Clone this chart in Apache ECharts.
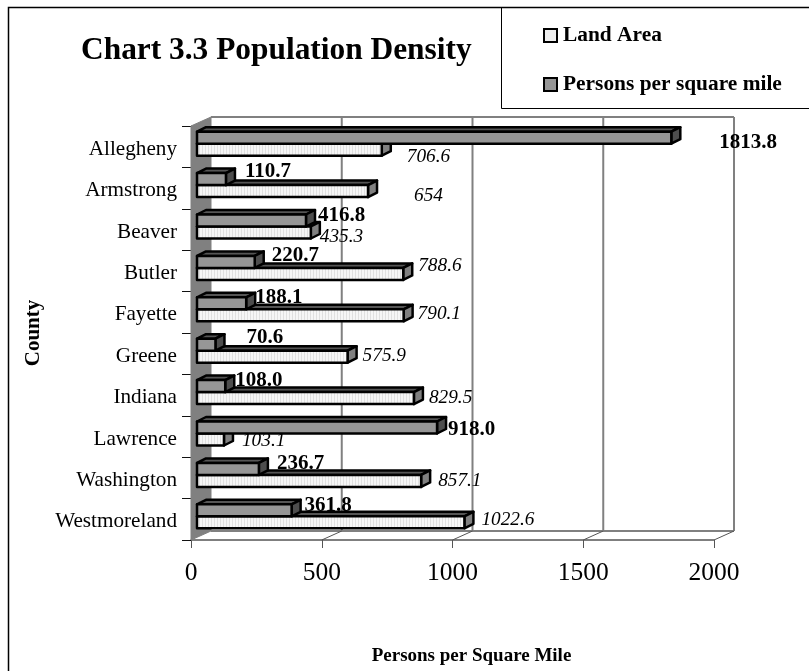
<!DOCTYPE html>
<html>

<head>
    <meta charset="UTF-8">
    <title>Chart 3.3 Population Density</title>
    <style type="text/css">
        * {
            margin: 0;
            padding: 0;
        }

        html,
        body {
            width: 100%;
            height: 100%;
            background: #fff;
            overflow: hidden;
        }

        #container {
            width: 809px;
            height: 671px;
        }
    </style>
</head>

<body>
    <div id="container"></div>
    <script src="https://cdn.jsdelivr.net/npm/echarts@6/dist/echarts.min.js"></script>
    <script>
        const counties = ['Allegheny', 'Armstrong', 'Beaver', 'Butler', 'Fayette', 'Greene', 'Indiana', 'Lawrence', 'Washington', 'Westmoreland'];
        const landArea = [706.6, 654, 435.3, 788.6, 790.1, 575.9, 829.5, 103.1, 857.1, 1022.6];
        const personsPerMile = [1813.8, 110.7, 416.8, 220.7, 188.1, 70.6, 108.0, 918.0, 236.7, 361.8];
        const xTicks = [0, 500, 1000, 1500, 2000];

        // hand placed labels in the original, offset from the end of the bar
        const landLabelNudge = [[16, 10], [37, 8], [0, 7.5], [6, -5], [5, 2], [6, 2], [6, 3], [9, 4.5], [8, 3], [8, 1]];
        const personsLabelNudge = [[39, -4], [10, -17], [3, -13.5], [8, -15], [0, -15], [22, -16], [1, -15], [2, -6.5], [9, -14], [4, -14]];

        const fontName = '"Liberation Serif", "Times New Roman", serif';
        const wall = { dx: 20, dy: -9 };
        const bar = { fx: 6, fy: -3, dx: 9, dy: -4.5, h: 12 };

        // faint vertical hatching of the land area bars
        const hatch = document.createElement('canvas');
        hatch.width = 3;
        hatch.height = 3;
        const hatchCtx = hatch.getContext('2d');
        hatchCtx.fillStyle = '#f6f6f6';
        hatchCtx.fillRect(0, 0, 3, 3);
        hatchCtx.fillStyle = '#e0e0e0';
        hatchCtx.fillRect(1, 0, 1, 3);

        const renderWalls = (params, api) => {
            const g = params.coordSys;
            const x0 = g.x;
            const y0 = g.y;
            const y1 = g.y + g.height;
            const x1 = g.x + g.width;
            const gray = { stroke: '#808080', lineWidth: 2, fill: null };
            const children = [
                // left wall
                { type: 'polygon', shape: { points: [[x0, y0], [x0 + wall.dx, y0 + wall.dy], [x0 + wall.dx, y1 + wall.dy], [x0, y1]] }, style: { fill: '#808080', stroke: '#808080' } },
                // back wall outline
                { type: 'line', shape: { x1: x0 + wall.dx, y1: y0 + wall.dy, x2: x1 + wall.dx, y2: y0 + wall.dy }, style: gray },
                { type: 'line', shape: { x1: x0 + wall.dx, y1: y1 + wall.dy, x2: x1 + wall.dx, y2: y1 + wall.dy }, style: gray }
            ];
            xTicks.slice(1).forEach((v) => {
                const x = api.coord([v, 0])[0];
                children.push({ type: 'line', shape: { x1: x + wall.dx, y1: y0 + wall.dy, x2: x + wall.dx, y2: y1 + wall.dy }, style: gray });
                children.push({ type: 'line', shape: { x1: x, y1: y1, x2: x + wall.dx, y2: y1 + wall.dy }, style: { stroke: '#555', lineWidth: 1 } });
            });
            return { type: 'group', children };
        };

        const makeBarRender = (opts) => (params, api) => {
            const end = api.coord([api.value(0), api.value(1)]);
            const start = api.coord([0, api.value(1)]);
            const left = start[0] + bar.fx;
            const right = end[0] + bar.fx;
            const top = end[1] + bar.fy - (opts.upper ? bar.h : 0);
            const bottom = top + bar.h;
            const line = { stroke: '#000', lineWidth: 2.5, lineJoin: 'round' };
            return {
                type: 'group',
                children: [
                    { type: 'polygon', shape: { points: [[left, top], [left + bar.dx, top + bar.dy], [right + bar.dx, top + bar.dy], [right, top]] }, style: { fill: opts.topFill, ...line } },
                    { type: 'polygon', shape: { points: [[right, top], [right + bar.dx, top + bar.dy], [right + bar.dx, bottom + bar.dy], [right, bottom]] }, style: { fill: opts.sideFill, ...line } },
                    { type: 'rect', shape: { x: left, y: top, width: right - left, height: bar.h }, style: { fill: opts.frontFill, ...line } }
                ]
            };
        };

        const makeLabelRender = (opts) => (params, api) => {
            const end = api.coord([api.value(0), api.value(1)]);
            const nudge = opts.nudge[params.dataIndex];
            return {
                type: 'text',
                style: {
                    x: end[0] + bar.fx + bar.dx + nudge[0],
                    y: end[1] + nudge[1],
                    text: opts.format(api.value(0)),
                    fill: '#000',
                    font: opts.font,
                    align: 'left',
                    verticalAlign: 'middle'
                }
            };
        };

        const chart = echarts.init(document.getElementById('container'), null, { renderer: 'canvas' });

        chart.setOption({
            animation: false,
            backgroundColor: '#fff',
            textStyle: { fontFamily: fontName, color: '#000' },
            title: {
                text: 'Chart 3.3 Population Density',
                left: 81,
                top: 35,
                padding: 0,
                textStyle: { fontFamily: fontName, fontSize: 31.4, fontWeight: 'bold', color: '#000' }
            },
            legend: {
                left: 543,
                top: 25,
                padding: 0,
                orient: 'vertical',
                itemWidth: 13,
                itemHeight: 13,
                itemGap: 28,
                icon: 'rect',
                selectedMode: false,
                data: ['Land Area', 'Persons per square mile'],
                textStyle: { fontFamily: fontName, fontSize: 21.4, fontWeight: 'bold', color: '#000', padding: [2, 0, 0, 1] }
            },
            grid: { left: 191, top: 126, width: 523, height: 414, containLabel: false },
            xAxis: {
                type: 'value',
                min: 0,
                max: 2000,
                interval: 500,
                name: 'Persons per Square Mile',
                nameLocation: 'middle',
                nameGap: 107,
                nameTextStyle: { fontFamily: fontName, fontSize: 19, fontWeight: 'bold', color: '#000', padding: [0, 0, 0, 38] },
                axisLine: { show: true, lineStyle: { color: '#555', width: 1.5 } },
                axisTick: { show: true, length: 8, lineStyle: { color: '#555' } },
                axisLabel: { fontFamily: fontName, fontSize: 25.5, color: '#000', margin: 20, formatter: (v) => String(v) },
                splitLine: { show: false }
            },
            yAxis: {
                type: 'category',
                inverse: true,
                data: counties,
                name: 'County',
                nameLocation: 'middle',
                nameRotate: 90,
                nameGap: 140,
                nameTextStyle: { fontFamily: fontName, fontSize: 21, fontWeight: 'bold', color: '#000' },
                axisLine: { show: true, lineStyle: { color: '#555', width: 1 } },
                axisTick: { show: true, length: 9, lineStyle: { color: '#111' } },
                axisLabel: { fontFamily: fontName, fontSize: 21.2, color: '#000', margin: 14, verticalAlign: 'top', lineHeight: 5 }
            },
            graphic: [
                { type: 'rect', silent: true, z: -1, shape: { x: 8.5, y: 7.5, width: 900, height: 800 }, style: { fill: 'none', stroke: '#000', lineWidth: 1.5 } },
                { type: 'rect', silent: true, z: -1, shape: { x: 501.5, y: 7.5, width: 400, height: 101 }, style: { fill: 'none', stroke: '#000', lineWidth: 1 } }
            ],
            series: [
                {
                    type: 'custom',
                    silent: true,
                    z: 1,
                    renderItem: renderWalls,
                    data: [[0, 0]],
                    encode: { x: 0, y: 1 }
                },
                {
                    name: 'Land Area',
                    type: 'custom',
                    z: 2,
                    itemStyle: { color: '#eeeeee', borderColor: '#000', borderWidth: 2 },
                    renderItem: makeBarRender({
                        upper: false,
                        frontFill: { image: hatch, repeat: 'repeat' },
                        topFill: '#555555',
                        sideFill: '#808080'
                    }),
                    data: landArea.map((v, i) => [v, i]),
                    encode: { x: 0, y: 1 }
                },
                {
                    name: 'Persons per square mile',
                    type: 'custom',
                    z: 3,
                    itemStyle: { color: '#969696', borderColor: '#000', borderWidth: 2 },
                    renderItem: makeBarRender({
                        upper: true,
                        frontFill: '#969696',
                        topFill: '#555555',
                        sideFill: '#4d4d4d'
                    }),
                    data: personsPerMile.map((v, i) => [v, i]),
                    encode: { x: 0, y: 1 }
                },
                {
                    type: 'custom',
                    silent: true,
                    z: 5,
                    renderItem: makeLabelRender({
                        nudge: landLabelNudge,
                        font: 'italic 19.3px ' + fontName,
                        format: (v) => String(v)
                    }),
                    data: landArea.map((v, i) => [v, i]),
                    encode: { x: 0, y: 1 }
                },
                {
                    type: 'custom',
                    silent: true,
                    z: 5,
                    renderItem: makeLabelRender({
                        nudge: personsLabelNudge,
                        font: 'bold 21px ' + fontName,
                        format: (v) => v.toFixed(1)
                    }),
                    data: personsPerMile.map((v, i) => [v, i]),
                    encode: { x: 0, y: 1 }
                }
            ]
        });
    </script>
</body>

</html>
